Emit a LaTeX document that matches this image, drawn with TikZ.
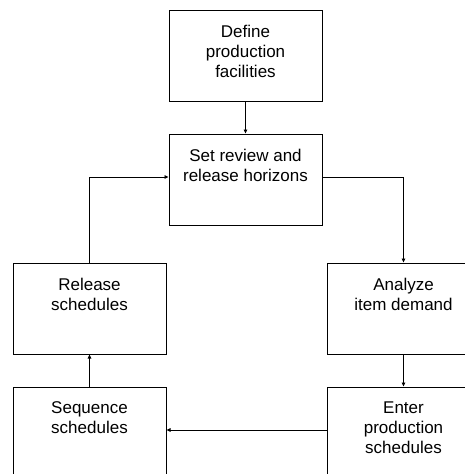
\documentclass[tikz,border=0pt]{standalone}
\usepackage{fontspec}
\setmainfont{Liberation Sans}
\usetikzlibrary{arrows.meta}
% fixed-height strut so every label's first baseline sits at the same depth
\newcommand\firstlinestrut{\rule{0pt}{15pt}}
\tikzset{
  stepbox/.style={draw, line width=1pt, minimum width=153pt, minimum height=91pt, inner sep=0pt},
  steptext/.style={anchor=north, align=center, inner sep=0pt,
    font=\fontsize{17}{20}\selectfont, execute at begin node=\firstlinestrut},
  flow/.style={line width=0.9pt, -{Triangle[length=4pt,width=3.5pt]}}
}
\begin{document}
\begin{tikzpicture}[x=1pt,y=-1pt]
\useasboundingbox (0,0) rectangle (465,474);
\clip (0,0) rectangle (465,474);

% process boxes
\node[stepbox] (define)   at (245.5,55.5)  {};
\node[stepbox] (horizon)  at (245.5,179.5) {};
\node[stepbox] (release)  at (89.5,308.5)  {};
\node[stepbox] (analyze)  at (403.5,308.5) {};
\node[stepbox] (sequence) at (89.5,432.5)  {};
\node[stepbox] (enter)    at (403.5,432.5) {};

% box labels, set near the top of each box
\node[steptext] (tdefine)   at (245.5,24.5)  {Define\\production\\facilities};
\node[steptext] (thorizon)  at (245.5,148.5) {Set review and\\release horizons};
\node[steptext] (trelease)  at (89.5,277.5)  {Release\\schedules};
\node[steptext] (tanalyze)  at (403.5,277.5) {Analyze\\item demand};
\node[steptext] (tsequence) at (89.5,401.5)  {Sequence\\schedules};
\node[steptext] (tenter)    at (403.5,401.5) {Enter\\production\\schedules};

% flow between steps
\draw[flow] (define.south) -- (horizon.north);
\draw[flow] ([yshift=2.5pt]horizon.east) -| (analyze.north);
\draw[flow] (analyze.south) -- (enter.north);
\draw[flow] ([yshift=2.5pt]enter.west) -- ([yshift=2.5pt]sequence.east);
\draw[flow] (sequence.north) -- (release.south);
\draw[flow] (release.north) |- ([yshift=2.5pt]horizon.west);
\end{tikzpicture}
\end{document}
